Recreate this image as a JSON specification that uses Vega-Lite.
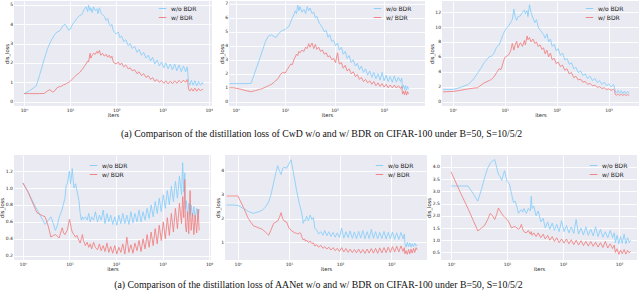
{
"$schema": "https://vega.github.io/schema/vega-lite/v6.json",
"padding": {"left": -1, "top": 0, "right": 0, "bottom": 0},
"background": "white",
"config": {
  "font": "DejaVu Sans",
  "view": {"fill": "#EAEAF2", "stroke": null},
  "axis": {"domain": false, "ticks": false, "gridColor": "white", "gridWidth": 0.9, "labelFontSize": 4.5, "titleFontSize": 5.2, "titleFontWeight": "normal", "labelColor": "#222", "titleColor": "#222", "labelPadding": 1.5, "titlePadding": 0.5},
  "legend": {"title": null, "symbolType": "M-0.75,0H0.75", "symbolSize": 100, "symbolStrokeWidth": 1.5, "labelFontSize": 6, "labelColor": "#222", "rowPadding": 0, "padding": 2, "labelOffset": 3},
  "title": {"font": "Liberation Serif", "fontSize": 9.8, "fontWeight": "normal", "color": "#111", "anchor": "middle"},
  "line": {"strokeWidth": 0.95, "opacity": 0.9, "clip": true}
},
"datasets": {
"c1": [{"x":1,"a":0.42,"b":0.42},{"x":1.3,"a":0.55,"b":0.42},{"x":1.85,"a":0.82,"b":0.42},{"x":2.2,"a":1.4,"b":0.42},{"x":2.75,"a":2.2,"b":0.43},{"x":3.2,"a":2.7,"b":0.55},{"x":3.6,"a":3.0,"b":0.62},{"x":4.2,"a":3.3,"b":0.5},{"x":4.6,"a":3.45,"b":0.55},{"x":5.2,"a":3.6,"b":0.72},{"x":5.9,"a":3.65,"b":0.78},{"x":6.5,"a":3.8,"b":0.8},{"x":7.2,"a":3.95,"b":0.88},{"x":7.8,"a":4.0,"b":0.9},{"x":8.5,"a":3.85,"b":0.95},{"x":9.3,"a":3.7,"b":1.0},{"x":10,"a":3.72,"b":1.05},{"x":11,"a":3.95,"b":1.15},{"x":12.6,"a":4.15,"b":1.3},{"x":14,"a":4.3,"b":1.4},{"x":16,"a":4.45,"b":1.5},{"x":18,"a":4.5,"b":1.65},{"x":20,"a":4.75,"b":1.8},{"x":22,"a":4.9,"b":1.95},{"x":24,"a":4.65,"b":2.1},{"x":25,"a":4.98,"b":2.05},{"x":27,"a":4.7,"b":2.5},{"x":28,"a":4.85,"b":2.25},{"x":30,"a":4.6,"b":2.4},{"x":32,"a":4.9,"b":2.5},{"x":35,"a":4.7,"b":2.45},{"x":38,"a":4.8,"b":2.6},{"x":40,"a":4.55,"b":2.5},{"x":43,"a":4.85,"b":2.65},{"x":46,"a":4.6,"b":2.4},{"x":50,"a":4.5,"b":2.5},{"x":55,"a":4.4,"b":2.35},{"x":60,"a":4.2,"b":2.45},{"x":65,"a":4.3,"b":2.3},{"x":70,"a":4.0,"b":2.4},{"x":75,"a":3.9,"b":2.25},{"x":80,"a":4.0,"b":2.35},{"x":85,"a":3.7,"b":2.1},{"x":90,"a":3.6,"b":2.0},{"x":100,"a":3.5,"b":1.95},{"x":110,"a":3.6,"b":2.05},{"x":120,"a":3.3,"b":1.9},{"x":130,"a":3.4,"b":2.0},{"x":145,"a":3.1,"b":1.8},{"x":160,"a":3.2,"b":1.9},{"x":180,"a":2.9,"b":1.7},{"x":200,"a":3.0,"b":1.75},{"x":220,"a":2.75,"b":1.6},{"x":250,"a":2.85,"b":1.65},{"x":280,"a":2.55,"b":1.45},{"x":310,"a":2.7,"b":1.55},{"x":350,"a":2.4,"b":1.35},{"x":390,"a":2.55,"b":1.45},{"x":440,"a":2.25,"b":1.25},{"x":490,"a":2.4,"b":1.35},{"x":550,"a":2.1,"b":1.15},{"x":610,"a":2.3,"b":1.25},{"x":680,"a":1.95,"b":1.05},{"x":760,"a":2.15,"b":1.15},{"x":850,"a":1.85,"b":1.0},{"x":950,"a":2.05,"b":1.1},{"x":1060,"a":1.75,"b":0.95},{"x":1180,"a":2.0,"b":1.08},{"x":1320,"a":1.7,"b":0.92},{"x":1470,"a":1.95,"b":1.06},{"x":1640,"a":1.65,"b":0.93},{"x":1830,"a":1.95,"b":1.08},{"x":2040,"a":1.6,"b":0.95},{"x":2280,"a":1.9,"b":1.1},{"x":2540,"a":1.55,"b":0.97},{"x":2830,"a":1.85,"b":1.12},{"x":3160,"a":1.55,"b":1.0},{"x":3400,"a":1.8,"b":1.15},{"x":3520,"a":1.5,"b":1.0},{"x":3650,"a":1.05,"b":0.65},{"x":3900,"a":0.85,"b":0.55},{"x":4200,"a":1.1,"b":0.68},{"x":4600,"a":0.85,"b":0.55},{"x":5000,"a":1.08,"b":0.7},{"x":5500,"a":0.82,"b":0.54},{"x":6000,"a":1.05,"b":0.68},{"x":6600,"a":0.85,"b":0.56},{"x":7200,"a":1.0,"b":0.65},{"x":7600,"a":0.9,"b":0.6}],
"c2": [{"x":0.75,"a":1.3,"b":1.0},{"x":0.9,"a":1.3,"b":1.0},{"x":1.2,"a":1.3,"b":0.92},{"x":1.6,"a":1.3,"b":0.8},{"x":2.05,"a":1.32,"b":0.72},{"x":2.5,"a":2.2,"b":0.8},{"x":3,"a":3.0,"b":0.88},{"x":3.5,"a":3.7,"b":0.95},{"x":4,"a":4.3,"b":1.05},{"x":4.6,"a":4.7,"b":1.15},{"x":5.3,"a":4.78,"b":1.25},{"x":6,"a":4.65,"b":1.4},{"x":6.6,"a":4.6,"b":1.55},{"x":7.2,"a":4.8,"b":1.65},{"x":8,"a":5.0,"b":1.95},{"x":9,"a":5.1,"b":2.1},{"x":10,"a":5.15,"b":2.05},{"x":11,"a":5.3,"b":2.3},{"x":12,"a":5.4,"b":2.5},{"x":13,"a":5.7,"b":2.7},{"x":14,"a":6.0,"b":2.65},{"x":15,"a":6.2,"b":3.0},{"x":16,"a":6.5,"b":3.2},{"x":17,"a":6.3,"b":3.4},{"x":18,"a":6.9,"b":3.3},{"x":19,"a":6.5,"b":3.6},{"x":20,"a":6.8,"b":3.5},{"x":22,"a":6.4,"b":3.7},{"x":24,"a":6.6,"b":3.6},{"x":26,"a":6.3,"b":3.9},{"x":28,"a":6.8,"b":3.8},{"x":30,"a":6.5,"b":4.15},{"x":32,"a":6.7,"b":3.9},{"x":35,"a":6.3,"b":4.2},{"x":38,"a":6.4,"b":3.8},{"x":41,"a":6.0,"b":4.1},{"x":44,"a":6.1,"b":3.75},{"x":48,"a":5.7,"b":3.9},{"x":52,"a":5.5,"b":3.6},{"x":57,"a":5.3,"b":3.7},{"x":62,"a":5.0,"b":3.4},{"x":68,"a":5.1,"b":3.5},{"x":74,"a":4.6,"b":3.2},{"x":80,"a":4.8,"b":3.3},{"x":88,"a":4.3,"b":3.0},{"x":96,"a":4.4,"b":3.1},{"x":105,"a":4.0,"b":2.8},{"x":115,"a":4.2,"b":3.5},{"x":125,"a":3.7,"b":2.7},{"x":138,"a":3.9,"b":2.8},{"x":150,"a":3.4,"b":2.4},{"x":165,"a":3.6,"b":2.6},{"x":180,"a":3.1,"b":2.2},{"x":198,"a":3.3,"b":2.35},{"x":218,"a":2.8,"b":2.0},{"x":240,"a":3.0,"b":2.15},{"x":265,"a":2.55,"b":1.8},{"x":290,"a":2.75,"b":1.95},{"x":320,"a":2.3,"b":1.6},{"x":350,"a":2.55,"b":1.75},{"x":385,"a":2.1,"b":1.45},{"x":425,"a":2.35,"b":1.6},{"x":470,"a":1.9,"b":1.35},{"x":515,"a":2.2,"b":1.5},{"x":570,"a":1.75,"b":1.25},{"x":625,"a":2.1,"b":1.45},{"x":690,"a":1.65,"b":1.15},{"x":760,"a":2.0,"b":1.35},{"x":840,"a":1.55,"b":1.1},{"x":920,"a":2.1,"b":1.3},{"x":1010,"a":1.5,"b":1.05},{"x":1110,"a":1.9,"b":1.25},{"x":1220,"a":1.45,"b":1.0},{"x":1340,"a":1.8,"b":1.2},{"x":1480,"a":1.4,"b":1.0},{"x":1630,"a":1.85,"b":1.2},{"x":1790,"a":1.4,"b":0.98},{"x":1970,"a":1.75,"b":1.15},{"x":2160,"a":1.45,"b":0.95},{"x":2300,"a":1.7,"b":1.1},{"x":2380,"a":0.95,"b":0.55},{"x":2500,"a":1.2,"b":0.75},{"x":2620,"a":0.85,"b":0.5},{"x":2750,"a":1.15,"b":0.8},{"x":2880,"a":0.85,"b":0.48},{"x":3020,"a":1.1,"b":0.72},{"x":3150,"a":0.9,"b":0.55}],
"c3": [{"x":0.65,"a":1.6,"b":1.3},{"x":1,"a":1.6,"b":1.35},{"x":1.4,"a":1.9,"b":1.5},{"x":2,"a":2.3,"b":1.7},{"x":2.5,"a":3.0,"b":1.8},{"x":3,"a":3.8,"b":1.85},{"x":3.5,"a":4.5,"b":2.2},{"x":4,"a":5.2,"b":2.5},{"x":5,"a":6.0,"b":2.8},{"x":5.6,"a":6.1,"b":3.0},{"x":6.2,"a":6.5,"b":3.3},{"x":7,"a":7.3,"b":3.9},{"x":7.8,"a":7.6,"b":4.4},{"x":8.5,"a":8.3,"b":4.3},{"x":9.3,"a":9.0,"b":5.2},{"x":10,"a":9.5,"b":5.9},{"x":11,"a":9.9,"b":6.1},{"x":12,"a":10.2,"b":6.3},{"x":13,"a":10.6,"b":6.8},{"x":14,"a":11.0,"b":7.8},{"x":15,"a":12.4,"b":6.9},{"x":16,"a":11.3,"b":7.7},{"x":17,"a":10.9,"b":8.1},{"x":18,"a":11.4,"b":7.2},{"x":20,"a":11.5,"b":7.9},{"x":22,"a":12.0,"b":7.4},{"x":24,"a":12.3,"b":8.2},{"x":25,"a":11.8,"b":7.6},{"x":27,"a":12.2,"b":8.8},{"x":28,"a":11.4,"b":8.3},{"x":30,"a":13.0,"b":8.6},{"x":32,"a":12.0,"b":8.0},{"x":35,"a":11.2,"b":8.4},{"x":38,"a":10.6,"b":7.8},{"x":41,"a":11.0,"b":8.0},{"x":44,"a":10.0,"b":7.4},{"x":48,"a":9.6,"b":7.6},{"x":52,"a":9.3,"b":7.0},{"x":56,"a":9.0,"b":7.2},{"x":60,"a":8.5,"b":6.4},{"x":65,"a":9.1,"b":6.9},{"x":70,"a":8.0,"b":6.0},{"x":76,"a":8.4,"b":6.5},{"x":82,"a":7.4,"b":5.6},{"x":90,"a":7.7,"b":5.8},{"x":98,"a":6.8,"b":5.1},{"x":107,"a":7.1,"b":5.3},{"x":118,"a":6.2,"b":4.7},{"x":130,"a":6.5,"b":4.9},{"x":143,"a":5.6,"b":4.2},{"x":158,"a":5.8,"b":4.4},{"x":175,"a":5.0,"b":3.7},{"x":193,"a":5.2,"b":3.9},{"x":213,"a":4.4,"b":3.2},{"x":235,"a":4.6,"b":3.4},{"x":260,"a":3.9,"b":2.9},{"x":290,"a":4.1,"b":3.0},{"x":320,"a":3.5,"b":2.6},{"x":355,"a":3.7,"b":2.7},{"x":395,"a":3.1,"b":2.3},{"x":440,"a":3.4,"b":2.45},{"x":490,"a":2.8,"b":2.1},{"x":545,"a":3.1,"b":2.2},{"x":605,"a":2.55,"b":1.9},{"x":670,"a":2.8,"b":2.0},{"x":745,"a":2.3,"b":1.75},{"x":825,"a":2.6,"b":1.85},{"x":915,"a":2.1,"b":1.6},{"x":1010,"a":2.4,"b":1.7},{"x":1120,"a":1.95,"b":1.5},{"x":1240,"a":2.3,"b":1.65},{"x":1300,"a":1.9,"b":1.5},{"x":1340,"a":1.4,"b":0.95},{"x":1420,"a":1.15,"b":0.85},{"x":1520,"a":1.5,"b":1.05},{"x":1630,"a":1.1,"b":0.8},{"x":1750,"a":1.45,"b":1.0},{"x":1880,"a":1.05,"b":0.8},{"x":2020,"a":1.4,"b":1.0},{"x":2170,"a":1.05,"b":0.78},{"x":2330,"a":1.35,"b":0.95},{"x":2500,"a":1.1,"b":0.82}],
"a1": [{"x":1,"a":1.06,"b":1.06},{"x":1.3,"a":0.95,"b":0.95},{"x":1.7,"a":0.82,"b":0.8},{"x":2,"a":0.75,"b":0.71},{"x":2.5,"a":0.65,"b":0.68},{"x":3,"a":0.57,"b":0.66},{"x":3.5,"a":0.62,"b":0.55},{"x":4,"a":0.66,"b":0.42},{"x":4.5,"a":0.58,"b":0.44},{"x":5,"a":0.5,"b":0.45},{"x":5.5,"a":0.56,"b":0.43},{"x":6,"a":0.65,"b":0.41},{"x":7,"a":0.75,"b":0.53},{"x":7.5,"a":0.82,"b":0.47},{"x":8,"a":0.88,"b":0.45},{"x":8.5,"a":1.03,"b":0.48},{"x":9,"a":1.05,"b":0.5},{"x":10,"a":1.2,"b":0.63},{"x":10.5,"a":1.05,"b":0.58},{"x":11,"a":1.12,"b":0.52},{"x":11.5,"a":1.23,"b":0.48},{"x":12.5,"a":1.0,"b":0.45},{"x":13.5,"a":1.05,"b":0.42},{"x":14.5,"a":0.97,"b":0.44},{"x":16,"a":0.85,"b":0.38},{"x":17,"a":0.7,"b":0.35},{"x":18,"a":0.62,"b":0.4},{"x":19,"a":0.66,"b":0.45},{"x":20,"a":0.63,"b":0.38},{"x":22,"a":0.66,"b":0.32},{"x":24,"a":0.62,"b":0.36},{"x":26,"a":0.7,"b":0.3},{"x":28,"a":0.6,"b":0.34},{"x":30,"a":0.66,"b":0.28},{"x":33,"a":0.62,"b":0.36},{"x":36,"a":0.72,"b":0.3},{"x":40,"a":0.6,"b":0.27},{"x":44,"a":0.68,"b":0.34},{"x":48,"a":0.62,"b":0.26},{"x":53,"a":0.74,"b":0.32},{"x":58,"a":0.58,"b":0.25},{"x":64,"a":0.7,"b":0.35},{"x":70,"a":0.6,"b":0.24},{"x":77,"a":0.68,"b":0.31},{"x":85,"a":0.57,"b":0.23},{"x":94,"a":0.66,"b":0.32},{"x":104,"a":0.56,"b":0.22},{"x":115,"a":0.68,"b":0.3},{"x":127,"a":0.58,"b":0.24},{"x":140,"a":0.7,"b":0.34},{"x":155,"a":0.58,"b":0.22},{"x":171,"a":0.68,"b":0.42},{"x":189,"a":0.57,"b":0.24},{"x":209,"a":0.72,"b":0.33},{"x":231,"a":0.59,"b":0.23},{"x":255,"a":0.7,"b":0.35},{"x":282,"a":0.6,"b":0.26},{"x":312,"a":0.74,"b":0.38},{"x":345,"a":0.6,"b":0.25},{"x":381,"a":0.72,"b":0.4},{"x":421,"a":0.62,"b":0.28},{"x":465,"a":0.76,"b":0.45},{"x":514,"a":0.64,"b":0.3},{"x":568,"a":0.8,"b":0.48},{"x":628,"a":0.66,"b":0.32},{"x":694,"a":0.84,"b":0.52},{"x":767,"a":0.7,"b":0.34},{"x":848,"a":0.88,"b":0.56},{"x":937,"a":0.72,"b":0.38},{"x":1036,"a":0.92,"b":0.6},{"x":1145,"a":0.76,"b":0.4},{"x":1265,"a":0.97,"b":0.65},{"x":1398,"a":0.8,"b":0.44},{"x":1545,"a":1.02,"b":0.7},{"x":1707,"a":0.84,"b":0.48},{"x":1887,"a":1.08,"b":0.76},{"x":2085,"a":0.88,"b":0.52},{"x":2304,"a":1.14,"b":0.82},{"x":2547,"a":0.92,"b":0.58},{"x":2700,"a":1.3,"b":0.9},{"x":2850,"a":0.95,"b":0.65},{"x":3000,"a":1.18,"b":1.1},{"x":3100,"a":0.75,"b":0.55},{"x":3250,"a":0.85,"b":0.48},{"x":3450,"a":0.65,"b":0.72},{"x":3650,"a":0.82,"b":0.46},{"x":3900,"a":0.68,"b":0.97},{"x":4100,"a":0.8,"b":0.5},{"x":4400,"a":0.66,"b":0.7},{"x":4700,"a":0.78,"b":0.45},{"x":5000,"a":0.64,"b":0.68},{"x":5400,"a":0.76,"b":0.47},{"x":5800,"a":0.65,"b":0.75},{"x":6100,"a":0.75,"b":0.5}],
"a2": [{"x":0.6,"a":2.57,"b":2.95},{"x":0.8,"a":2.57,"b":2.95},{"x":1,"a":2.55,"b":2.95},{"x":1.3,"a":2.42,"b":2.45},{"x":1.6,"a":2.3,"b":2.0},{"x":2,"a":2.22,"b":1.7},{"x":2.5,"a":2.28,"b":1.62},{"x":3,"a":2.35,"b":1.55},{"x":3.5,"a":2.5,"b":1.42},{"x":4,"a":2.7,"b":1.3},{"x":4.5,"a":3.05,"b":1.55},{"x":5,"a":3.5,"b":1.8},{"x":5.5,"a":3.9,"b":1.85},{"x":6,"a":4.22,"b":1.9},{"x":6.5,"a":4.0,"b":2.05},{"x":7,"a":3.85,"b":2.25},{"x":7.5,"a":4.1,"b":2.0},{"x":8,"a":4.15,"b":1.9},{"x":9,"a":4.12,"b":1.85},{"x":10,"a":4.3,"b":1.6},{"x":11,"a":4.47,"b":1.5},{"x":12,"a":4.0,"b":1.45},{"x":13,"a":3.6,"b":1.4},{"x":14,"a":3.2,"b":1.38},{"x":15,"a":2.9,"b":1.35},{"x":16,"a":2.6,"b":1.4},{"x":17,"a":2.4,"b":1.38},{"x":18,"a":2.15,"b":1.2},{"x":19,"a":1.8,"b":1.1},{"x":20,"a":1.95,"b":1.15},{"x":21,"a":1.9,"b":1.05},{"x":22,"a":2.1,"b":1.1},{"x":24,"a":1.9,"b":1.0},{"x":26,"a":2.15,"b":1.05},{"x":28,"a":1.95,"b":0.95},{"x":30,"a":2.05,"b":0.98},{"x":32,"a":1.6,"b":0.85},{"x":35,"a":1.5,"b":0.9},{"x":38,"a":1.35,"b":0.8},{"x":42,"a":1.45,"b":0.88},{"x":46,"a":1.3,"b":0.75},{"x":50,"a":1.5,"b":0.82},{"x":55,"a":1.28,"b":0.72},{"x":60,"a":1.45,"b":0.8},{"x":66,"a":1.25,"b":0.68},{"x":73,"a":1.42,"b":0.78},{"x":80,"a":1.22,"b":0.65},{"x":88,"a":1.4,"b":0.75},{"x":97,"a":1.2,"b":0.62},{"x":107,"a":1.6,"b":0.78},{"x":118,"a":1.18,"b":0.6},{"x":130,"a":1.45,"b":0.74},{"x":143,"a":1.2,"b":0.58},{"x":157,"a":1.48,"b":0.72},{"x":173,"a":1.17,"b":0.57},{"x":190,"a":1.44,"b":0.7},{"x":209,"a":1.15,"b":0.56},{"x":230,"a":1.46,"b":0.72},{"x":253,"a":1.18,"b":0.55},{"x":278,"a":1.5,"b":0.7},{"x":306,"a":1.15,"b":0.54},{"x":337,"a":1.45,"b":0.72},{"x":370,"a":1.16,"b":0.55},{"x":407,"a":1.55,"b":0.74},{"x":448,"a":1.17,"b":0.55},{"x":493,"a":1.45,"b":0.75},{"x":542,"a":1.15,"b":0.54},{"x":596,"a":1.42,"b":0.77},{"x":656,"a":1.16,"b":0.56},{"x":721,"a":1.46,"b":0.78},{"x":793,"a":1.14,"b":0.57},{"x":873,"a":1.42,"b":0.8},{"x":960,"a":1.15,"b":0.58},{"x":1056,"a":1.44,"b":0.82},{"x":1162,"a":1.13,"b":0.6},{"x":1278,"a":1.4,"b":0.84},{"x":1406,"a":1.12,"b":0.6},{"x":1547,"a":1.42,"b":0.85},{"x":1700,"a":1.15,"b":0.62},{"x":1800,"a":1.35,"b":0.78},{"x":1850,"a":0.95,"b":0.52},{"x":1950,"a":0.8,"b":0.65},{"x":2060,"a":1.0,"b":0.5},{"x":2180,"a":0.82,"b":0.7},{"x":2300,"a":0.98,"b":0.52},{"x":2430,"a":0.8,"b":0.72},{"x":2570,"a":0.95,"b":0.55},{"x":2720,"a":0.82,"b":0.75},{"x":2880,"a":0.97,"b":0.58},{"x":3050,"a":0.85,"b":0.78},{"x":3250,"a":0.9,"b":0.68}],
"a3": [{"x":1,"a":3.22,"b":3.8},{"x":1.5,"a":3.22,"b":2.9},{"x":2,"a":3.22,"b":2.3},{"x":2.5,"a":2.9,"b":1.8},{"x":3,"a":2.6,"b":1.38},{"x":3.5,"a":3.1,"b":1.5},{"x":4,"a":3.6,"b":1.62},{"x":4.5,"a":3.95,"b":1.85},{"x":5,"a":4.15,"b":2.1},{"x":5.5,"a":4.25,"b":2.0},{"x":6,"a":4.3,"b":1.85},{"x":6.5,"a":4.0,"b":2.05},{"x":7,"a":3.7,"b":2.32},{"x":7.5,"a":3.6,"b":2.2},{"x":8,"a":3.45,"b":2.1},{"x":8.5,"a":3.65,"b":2.0},{"x":9,"a":3.85,"b":1.95},{"x":9.5,"a":3.6,"b":1.9},{"x":10,"a":3.4,"b":1.85},{"x":11,"a":3.3,"b":1.7},{"x":12,"a":2.9,"b":1.5},{"x":13,"a":2.55,"b":1.55},{"x":14,"a":2.6,"b":1.55},{"x":15,"a":2.35,"b":1.5},{"x":16,"a":2.1,"b":1.45},{"x":17,"a":2.2,"b":1.5},{"x":18,"a":2.25,"b":1.65},{"x":19,"a":2.15,"b":1.45},{"x":20,"a":2.3,"b":1.35},{"x":22,"a":2.1,"b":1.3},{"x":24,"a":2.3,"b":1.4},{"x":26,"a":2.2,"b":1.25},{"x":27,"a":2.8,"b":1.35},{"x":28,"a":2.3,"b":1.2},{"x":30,"a":2.4,"b":1.3},{"x":33,"a":2.0,"b":1.15},{"x":36,"a":2.2,"b":1.3},{"x":40,"a":1.75,"b":1.1},{"x":44,"a":1.9,"b":1.25},{"x":48,"a":1.5,"b":1.05},{"x":53,"a":1.75,"b":1.2},{"x":58,"a":1.45,"b":1.0},{"x":64,"a":1.7,"b":1.15},{"x":70,"a":1.4,"b":0.95},{"x":77,"a":1.65,"b":1.1},{"x":85,"a":1.35,"b":0.9},{"x":94,"a":1.8,"b":1.05},{"x":104,"a":1.35,"b":0.88},{"x":115,"a":1.6,"b":1.05},{"x":127,"a":1.3,"b":0.85},{"x":140,"a":1.55,"b":1.02},{"x":155,"a":1.28,"b":0.82},{"x":171,"a":1.85,"b":1.0},{"x":189,"a":1.25,"b":0.8},{"x":209,"a":1.5,"b":0.98},{"x":231,"a":1.22,"b":0.78},{"x":255,"a":1.55,"b":0.95},{"x":282,"a":1.2,"b":0.76},{"x":312,"a":1.45,"b":0.95},{"x":345,"a":1.18,"b":0.75},{"x":381,"a":1.55,"b":0.92},{"x":421,"a":1.15,"b":0.72},{"x":465,"a":1.45,"b":0.9},{"x":514,"a":1.12,"b":0.7},{"x":568,"a":1.35,"b":0.95},{"x":628,"a":1.1,"b":0.68},{"x":694,"a":1.4,"b":0.85},{"x":767,"a":1.1,"b":0.66},{"x":820,"a":1.3,"b":0.8},{"x":860,"a":0.9,"b":0.5},{"x":920,"a":1.2,"b":0.65},{"x":990,"a":0.85,"b":0.42},{"x":1060,"a":1.15,"b":0.6},{"x":1140,"a":0.88,"b":0.45},{"x":1230,"a":1.25,"b":0.62},{"x":1320,"a":0.85,"b":0.43},{"x":1420,"a":1.1,"b":0.58},{"x":1520,"a":0.9,"b":0.48},{"x":1600,"a":1.0,"b":0.55}]
},
"spacing": 16,
"vconcat": [
{
  "title": {"text": "(a) Comparison of the distillation loss of CwD w/o and w/ BDR on CIFAR-100 under B=50, S=10/5/2", "orient": "bottom", "offset": 11},
  "spacing": 17,
  "bounds": "flush",
  "resolve": {"scale": {"color": "independent"}},
  "hconcat": [
    {"data": {"name": "c1"}, "transform": [{"fold": ["a", "b"], "as": ["s", "v"]}], "width": 198, "height": 105, "mark": "line",
     "encoding": {
       "x": {"field": "x", "type": "quantitative", "scale": {"type": "log", "domain": [0.61, 11750], "nice": false}, "axis": {"values": [1, 10, 100, 1000, 10000], "title": "iters", "labelExpr": "datum.value == 1 ? '10⁰' : datum.value == 10 ? '10¹' : datum.value == 100 ? '10²' : datum.value == 1000 ? '10³' : '10⁴'"}},
       "y": {"field": "v", "type": "quantitative", "scale": {"domain": [-0.22, 5.2], "nice": false, "zero": false}, "axis": {"values": [0, 1, 2, 3, 4, 5], "title": "dis_loss"}},
       "color": {"field": "s", "type": "nominal", "scale": {"domain": ["a", "b"], "range": ["#87CEFA", "#F08080"]}, "legend": {"orient": "none", "legendX": 141, "legendY": 0, "labelExpr": "datum.label == 'a' ? 'w/o BDR' : 'w/ BDR'"}}
     }},
    {"data": {"name": "c2"}, "transform": [{"fold": ["a", "b"], "as": ["s", "v"]}], "width": 196, "height": 105, "mark": "line",
     "encoding": {
       "x": {"field": "x", "type": "quantitative", "scale": {"type": "log", "domain": [0.73, 6800], "nice": false}, "axis": {"values": [1, 10, 100, 1000], "title": "iters", "labelExpr": "datum.value == 1 ? '10⁰' : datum.value == 10 ? '10¹' : datum.value == 100 ? '10²' : datum.value == 1000 ? '10³' : '10⁴'"}},
       "y": {"field": "v", "type": "quantitative", "scale": {"domain": [-0.3, 7.2], "nice": false, "zero": false}, "axis": {"values": [0, 1, 2, 3, 4, 5, 6, 7], "title": "dis_loss"}},
       "color": {"field": "s", "type": "nominal", "scale": {"domain": ["a", "b"], "range": ["#87CEFA", "#F08080"]}, "legend": {"orient": "none", "legendX": 141, "legendY": 0, "labelExpr": "datum.label == 'a' ? 'w/o BDR' : 'w/ BDR'"}}
     }},
    {"data": {"name": "c3"}, "transform": [{"fold": ["a", "b"], "as": ["s", "v"]}], "width": 197, "height": 105, "mark": "line",
     "encoding": {
       "x": {"field": "x", "type": "quantitative", "scale": {"type": "log", "domain": [0.62, 3850], "nice": false}, "axis": {"values": [1, 10, 100, 1000], "title": "iters", "labelExpr": "datum.value == 1 ? '10⁰' : datum.value == 10 ? '10¹' : datum.value == 100 ? '10²' : datum.value == 1000 ? '10³' : '10⁴'"}},
       "y": {"field": "v", "type": "quantitative", "scale": {"domain": [-0.6, 13.5], "nice": false, "zero": false}, "axis": {"values": [0, 2, 4, 6, 8, 10, 12], "title": "dis_loss"}},
       "color": {"field": "s", "type": "nominal", "scale": {"domain": ["a", "b"], "range": ["#87CEFA", "#F08080"]}, "legend": {"orient": "none", "legendX": 140, "legendY": 0, "labelExpr": "datum.label == 'a' ? 'w/o BDR' : 'w/ BDR'"}}
     }}
  ]
},
{
  "title": {"text": "(a) Comparison of the distillation loss of AANet w/o and w/ BDR on CIFAR-100 under B=50, S=10/5/2", "orient": "bottom", "offset": 8},
  "spacing": 14,
  "bounds": "flush",
  "resolve": {"scale": {"color": "independent"}},
  "hconcat": [
    {"data": {"name": "a1"}, "transform": [{"fold": ["a", "b"], "as": ["s", "v"]}], "width": 197, "height": 105, "mark": "line",
     "encoding": {
       "x": {"field": "x", "type": "quantitative", "scale": {"type": "log", "domain": [0.645, 10960], "nice": false}, "axis": {"values": [1, 10, 100, 1000, 10000], "title": "iters", "labelExpr": "datum.value == 1 ? '10⁰' : datum.value == 10 ? '10¹' : datum.value == 100 ? '10²' : datum.value == 1000 ? '10³' : '10⁴'"}},
       "y": {"field": "v", "type": "quantitative", "scale": {"domain": [0.15, 1.39], "nice": false, "zero": false}, "axis": {"values": [0.2, 0.4, 0.6, 0.8, 1.0, 1.2], "format": ".1f", "title": "dis_loss"}},
       "color": {"field": "s", "type": "nominal", "scale": {"domain": ["a", "b"], "range": ["#87CEFA", "#F08080"]}, "legend": {"orient": "none", "legendX": 72, "legendY": 3, "labelExpr": "datum.label == 'a' ? 'w/o BDR' : 'w/ BDR'"}}
     }},
    {"data": {"name": "a2"}, "transform": [{"fold": ["a", "b"], "as": ["s", "v"]}], "width": 202, "height": 105, "mark": "line",
     "encoding": {
       "x": {"field": "x", "type": "quantitative", "scale": {"type": "log", "domain": [0.56, 5000], "nice": false}, "axis": {"values": [1, 10, 100, 1000], "title": "iters", "labelExpr": "datum.value == 1 ? '10⁰' : datum.value == 10 ? '10¹' : datum.value == 100 ? '10²' : datum.value == 1000 ? '10³' : '10⁴'"}},
       "y": {"field": "v", "type": "quantitative", "scale": {"domain": [0.26, 4.67], "nice": false, "zero": false}, "axis": {"values": [1, 2, 3, 4], "title": "dis_loss"}},
       "color": {"field": "s", "type": "nominal", "scale": {"domain": ["a", "b"], "range": ["#87CEFA", "#F08080"]}, "legend": {"orient": "none", "legendX": 147, "legendY": 3, "labelExpr": "datum.label == 'a' ? 'w/o BDR' : 'w/ BDR'"}}
     }},
    {"data": {"name": "a3"}, "transform": [{"fold": ["a", "b"], "as": ["s", "v"]}], "width": 196, "height": 105, "mark": "line",
     "encoding": {
       "x": {"field": "x", "type": "quantitative", "scale": {"type": "log", "domain": [0.66, 2090], "nice": false}, "axis": {"values": [1, 10, 100, 1000], "title": "iters", "labelExpr": "datum.value == 1 ? '10⁰' : datum.value == 10 ? '10¹' : datum.value == 100 ? '10²' : datum.value == 1000 ? '10³' : '10⁴'"}},
       "y": {"field": "v", "type": "quantitative", "scale": {"domain": [0.19, 4.49], "nice": false, "zero": false}, "axis": {"values": [0.5, 1.0, 1.5, 2.0, 2.5, 3.0, 3.5, 4.0], "format": ".1f", "title": "dis_loss"}},
       "color": {"field": "s", "type": "nominal", "scale": {"domain": ["a", "b"], "range": ["#87CEFA", "#F08080"]}, "legend": {"orient": "none", "legendX": 145, "legendY": 3, "labelExpr": "datum.label == 'a' ? 'w/o BDR' : 'w/ BDR'"}}
     }}
  ]
}
]
}
